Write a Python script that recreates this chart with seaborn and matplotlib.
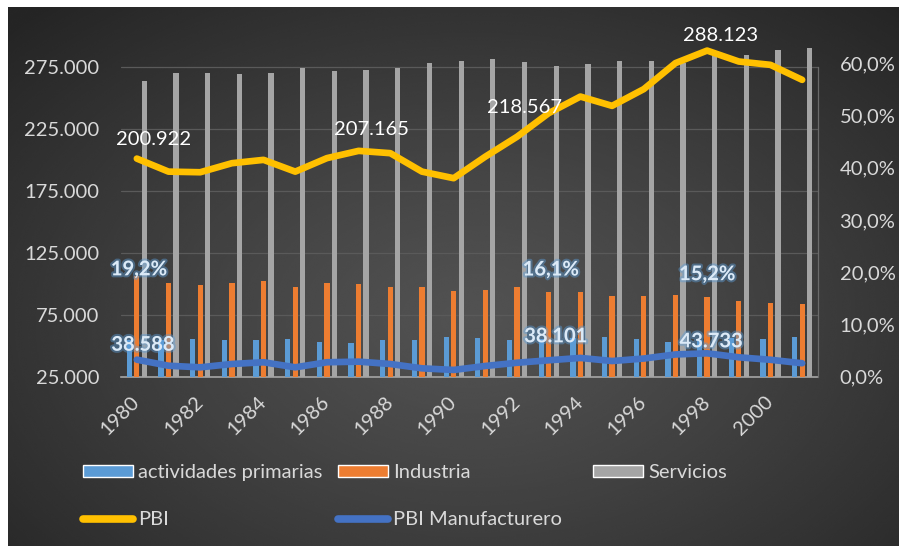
import numpy as np
import pandas as pd
import matplotlib
matplotlib.use("Agg")
import matplotlib.pyplot as plt
import seaborn as sns
from matplotlib.patches import Patch
from matplotlib.lines import Line2D
from matplotlib import patheffects as pe
from matplotlib.ticker import FuncFormatter

# ---- data -------------------------------------------------------------
years = list(range(1980, 2002))
primarias = [0.070, 0.069, 0.071, 0.069, 0.069, 0.071, 0.066, 0.064, 0.069, 0.069,
             0.075, 0.073, 0.069, 0.072, 0.073, 0.075, 0.071, 0.066, 0.070, 0.073,
             0.071, 0.075]
industria = [0.192, 0.180, 0.175, 0.180, 0.182, 0.172, 0.180, 0.177, 0.171, 0.171,
             0.163, 0.166, 0.171, 0.161, 0.161, 0.154, 0.154, 0.157, 0.152, 0.145,
             0.140, 0.138]
servicios = [0.566, 0.581, 0.581, 0.579, 0.581, 0.591, 0.585, 0.587, 0.591, 0.601,
             0.605, 0.608, 0.603, 0.595, 0.599, 0.605, 0.605, 0.601, 0.616, 0.616,
             0.625, 0.629]
pbi = [200922, 190400, 189900, 197200, 199900, 190400, 201300, 207165, 205300, 190400,
       185100, 202500, 218567, 237600, 251000, 243500, 257000, 278000, 288123, 279300,
       276600, 264500]
pbi_manuf = [38588, 33700, 32400, 35100, 36500, 32400, 36500, 37000, 35100, 31600,
             30300, 33500, 36100, 38101, 40000, 37500, 39500, 42800, 43733, 40500,
             38500, 35700]
sectores = ["actividades primarias", "Industria", "Servicios"]
left_ticks = [25000, 75000, 125000, 175000, 225000, 275000]
right_ticks = [0.0, 0.1, 0.2, 0.3, 0.4, 0.5, 0.6]

# which points carry a value label, with the label's pixel offset
pbi_labels = {0: (17, 19), 7: (13, 21), 12: (7, 29), 18: (13, 15)}
industria_labels = {0: (2, 7), 13: (2, 23), 18: (0, 23)}
manuf_labels = {0: (6, 15), 13: (7, 24), 18: (4, 12)}

# ---- style ------------------------------------------------------------
BLUE, ORANGE, GRAY = "#5B9BD5", "#ED7D31", "#A5A5A5"
YELLOW, DBLUE = "#FFC000", "#4472C4"
TXT = "#D9D9D9"
FS = 14.5
sns.set_style("dark")
plt.rcParams["font.family"] = ["Lato", "DejaVu Sans"]
plt.rcParams["font.size"] = FS


def miles(v, _=None):
    return f"{v:,.0f}".replace(",", ".")


def pct(v, _=None):
    return f"{v * 100:.1f}%".replace(".", ",")


W, H = 899, 546
fig = plt.figure(figsize=(W / 100, H / 100), dpi=100, facecolor="white")

# radial dark background of the chart area
bg = fig.add_axes([8 / W, 0, (W - 8) / W, (H - 7) / H])
gy, gx = np.mgrid[0:1:400j, 0:1:600j]
r = np.clip(np.sqrt(((gx - 0.52) / 0.72) ** 2 + ((gy - 0.58) / 0.78) ** 2), 0, 1)
shade = (0x52 + (0x25 - 0x52) * r ** 1.2) / 255.0
bg.imshow(shade, cmap="gray", vmin=0, vmax=1, extent=[0, 1, 0, 1], aspect="auto",
          interpolation="bicubic")
bg.axis("off")

# main axes: left scale, gridlines, category axis
ax = fig.add_axes([121 / W, (H - 376.5) / H, 697 / W, 365.4 / H])
ax.patch.set_visible(False)
ax2 = ax.twinx()   # sector shares, right scale
ax3 = ax.twinx()   # GDP lines, left scale
for a in (ax2, ax3):
    a.patch.set_visible(False)

df = pd.DataFrame({
    "Año": [str(y) for y in years] * 3,
    "valor": primarias + industria + servicios,
    "sector": [s for s in sectores for _ in years],
})
sns.barplot(data=df, x="Año", y="valor", hue="sector", hue_order=sectores,
            palette=[BLUE, ORANGE, GRAY], saturation=1, width=0.71, gap=0.3,
            ax=ax2, legend=False, errorbar=None, linewidth=0, edgecolor="none")

xpos = np.arange(len(years))
line_kw = dict(solid_capstyle="round", solid_joinstyle="round")
sns.lineplot(x=xpos, y=pbi, ax=ax3, color=YELLOW, linewidth=4.8, **line_kw)
sns.lineplot(x=xpos, y=pbi_manuf, ax=ax3, color=DBLUE, linewidth=4.8, **line_kw)

# scales
ax.set_ylim(25000, 320000)
ax3.set_ylim(25000, 320000)
ax2.set_ylim(0, 0.70)
ax.set_xlim(-0.5, len(years) - 0.5)

ax.set_yticks(left_ticks)
ax.yaxis.set_major_formatter(FuncFormatter(miles))
ax.yaxis.grid(True, color="#5A5A5A", linewidth=0.9)
ax.xaxis.grid(False)
ax.tick_params(axis="y", length=0, colors=TXT, labelsize=FS, pad=15.5)

ax2.set_yticks(right_ticks)
ax2.yaxis.set_major_formatter(FuncFormatter(pct))
ax2.tick_params(axis="y", length=0, colors=TXT, labelsize=FS, pad=15.5)
ax2.set_xlabel("")
ax2.set_ylabel("")
ax2.grid(False)
ax3.set_yticks([])
ax3.set_xlabel("")
ax3.set_ylabel("")
ax3.grid(False)

# category axis: labels every other year, tick marks between categories
ax.set_xticks(xpos[::2])
ax.set_xticklabels([str(y) for y in years[::2]], rotation=45, ha="right", va="center",
                   rotation_mode="anchor", color=TXT, fontsize=FS)
ax.set_xticks(np.arange(-0.5, len(years), 1.0), minor=True)
ax.tick_params(axis="x", which="major", length=0, pad=16)
ax.tick_params(axis="x", which="minor", length=5, width=1, color="#A6A6A6",
               direction="out")

for a in (ax, ax2, ax3):
    for s in a.spines.values():
        s.set_visible(False)
ax.spines["bottom"].set_visible(True)
ax.spines["bottom"].set_color("#A6A6A6")
ax.spines["bottom"].set_linewidth(1.2)
ax3.spines["right"].set_visible(True)
ax3.spines["right"].set_color("#6A6A6A")
ax3.spines["right"].set_linewidth(0.9)
ax3.spines["right"].set_bounds(left_ticks[0], left_ticks[-1])

# value labels
glow = [pe.withStroke(linewidth=3, foreground="#5B9BD5", alpha=0.45)]
for i, (dx, dy) in pbi_labels.items():
    ax3.annotate(miles(pbi[i]), (xpos[i], pbi[i]), xytext=(dx, dy),
                 textcoords="offset pixels", ha="center", va="center",
                 color="white", fontsize=FS)
for i, (dx, dy) in manuf_labels.items():
    ax3.annotate(miles(pbi_manuf[i]), (xpos[i], pbi_manuf[i]), xytext=(dx, dy),
                 textcoords="offset pixels", ha="center", va="center",
                 color="#DCEAF7", fontsize=FS, fontweight="bold", path_effects=glow)
for i, (dx, dy) in industria_labels.items():
    ax2.annotate(pct(industria[i]), (xpos[i], industria[i]), xytext=(dx, dy),
                 textcoords="offset pixels", ha="center", va="center",
                 color="#DCEAF7", fontsize=FS, fontweight="bold", path_effects=glow)

# legend: one column per group, two rows
legend_cols = [
    [Patch(facecolor=BLUE, label=sectores[0]),
     Line2D([], [], color=YELLOW, lw=5.5, solid_capstyle="round", label="PBI")],
    [Patch(facecolor=ORANGE, label=sectores[1]),
     Line2D([], [], color=DBLUE, lw=5.5, solid_capstyle="round", label="PBI Manufacturero")],
    [Patch(facecolor=GRAY, label=sectores[2])],
]
col_x = [83, 338, 593]
for hx, hs in zip(col_x, legend_cols):
    fig.legend(handles=hs, loc="upper left", bbox_to_anchor=(hx / W, 1 - 464 / H),
               frameon=False, fontsize=FS, labelcolor=TXT, handlelength=2.5,
               handleheight=0.5, handletextpad=0.25, labelspacing=1.5,
               borderpad=0, borderaxespad=0)

fig.savefig("out.png", dpi=100, facecolor="white")
